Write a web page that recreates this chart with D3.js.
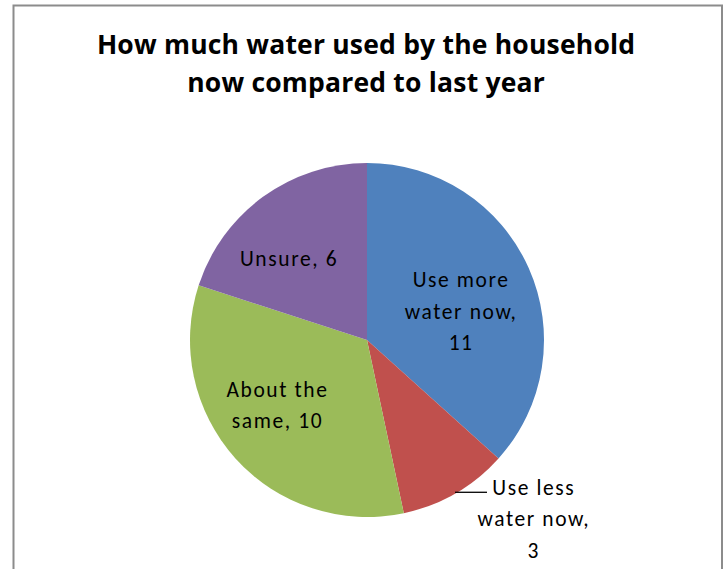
<!DOCTYPE html>
<html>
<head>
<meta charset="utf-8">
<script src="https://cdn.jsdelivr.net/npm/d3@7"></script>
<style>
  html, body { margin: 0; padding: 0; background: #fff; }
  svg { display: block; }
  text { font-family: Carlito, Lato, "Open Sans", sans-serif; fill: #000; }
  text.title { font-family: "Open Sans", sans-serif; }
</style>
</head>
<body>
<svg id="chart" width="726" height="569"></svg>
<script>
// Household water use compared with last year
const categories = ["Use more water now", "Use less water now", "About the same", "Unsure"];
const counts = [11, 3, 10, 6];
const labelLines = [
  ["Use more", "water now,", "11"],
  ["Use less", "water now,", "3"],
  ["About the", "same, 10"],
  ["Unsure, 6"]
];
const titleLines = ["How much water used by the household", "now compared to last year"];

const colors = ["#4f81bd", "#c0504d", "#9bbb59", "#8064a2"];

const width = 726, height = 569;
const cx = 367, cy = 340, radius = 177;

const svg = d3.select("#chart");

// chart frame (runs off the bottom edge)
svg.append("rect")
  .attr("x", 13.5).attr("y", 5.5)
  .attr("width", 708.5).attr("height", 600)
  .attr("fill", "#fff")
  .attr("stroke", "#8c8c8c")
  .attr("stroke-width", 2);

// title
const titleSpacing = 0.2;
svg.append("g").selectAll("text")
  .data(titleLines)
  .join("text")
  .attr("class", "title")
  .attr("x", 366 + titleSpacing / 2)
  .attr("y", (d, i) => 53.5 + i * 38.5)
  .attr("text-anchor", "middle")
  .attr("font-size", 26.5)
  .attr("font-weight", "bold")
  .attr("letter-spacing", titleSpacing)
  .text(d => d);

const data = categories.map((c, i) => ({ category: c, value: counts[i], lines: labelLines[i], color: colors[i] }));

const pie = d3.pie().value(d => d.value).sort(null);
const arcs = pie(data);
const arc = d3.arc().innerRadius(0).outerRadius(radius);

const g = svg.append("g").attr("transform", `translate(${cx},${cy})`);

g.selectAll("path")
  .data(arcs)
  .join("path")
  .attr("d", arc)
  .attr("fill", d => d.data.color);

// label placement: inside labels at a fraction of the radius, nudged for fit
const labelArc = d3.arc().innerRadius(radius * 0.55).outerRadius(radius * 0.55);
const edgeArc = d3.arc().innerRadius(radius).outerRadius(radius);
const nudges = [[4.4, 10.8], [0, 0], [-18, -0.5], [-21.5, -3.2]];
const lineH = 31.5;
const capHalf = 7.7;
const labelSpacing = 1.6;

function addLabel(lines, x, yFirst) {
  const t = g.append("text")
    .attr("text-anchor", "middle")
    .attr("font-size", 21.5)
    .attr("letter-spacing", labelSpacing);
  lines.forEach((ln, k) => {
    t.append("tspan")
      .attr("x", x + labelSpacing / 2)
      .attr("y", yFirst + k * lineH)
      .text(ln);
  });
}

arcs.forEach((a, i) => {
  if (i === 1) {
    // small slice: label sits outside with a leader line
    const [ex, ey] = edgeArc.centroid(a);
    g.append("line")
      .attr("x1", ex - 0.5).attr("y1", ey - 1)
      .attr("x2", ex + 31.5).attr("y2", ey - 1)
      .attr("stroke", "#000").attr("stroke-width", 1.3);
    addLabel(a.data.lines, ex + 77.5, ey + 1.7);
    return;
  }
  const [lx, ly] = labelArc.centroid(a);
  const n = a.data.lines.length;
  const x = lx + nudges[i][0];
  const yFirst = ly + nudges[i][1] - (n - 1) * lineH / 2 + capHalf;
  addLabel(a.data.lines, x, yFirst);
});
</script>
</body>
</html>
